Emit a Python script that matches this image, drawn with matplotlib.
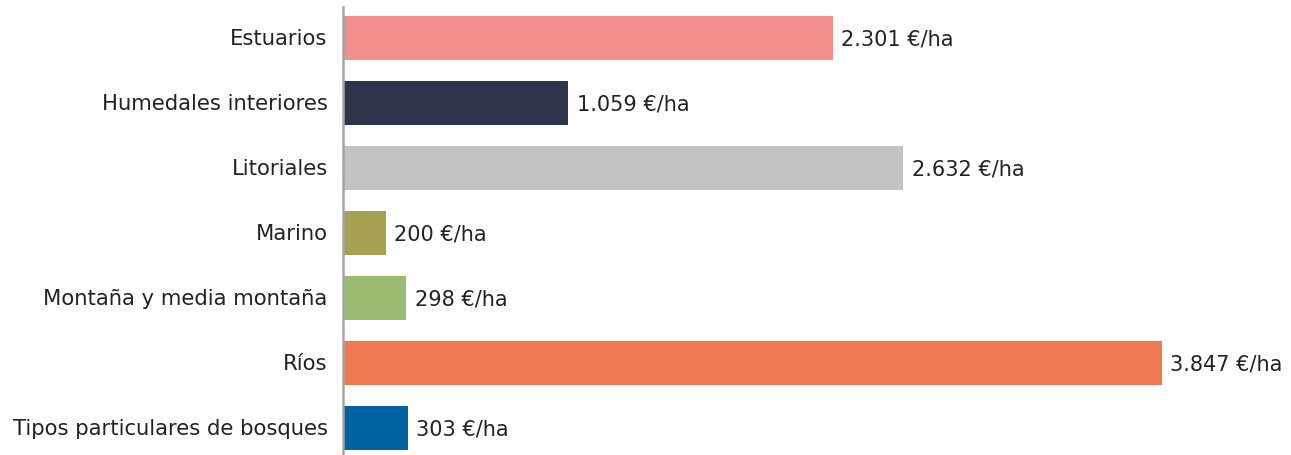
import numpy as np
import matplotlib.pyplot as plt

categories = ["Estuarios", "Humedales interiores", "Litoriales", "Marino",
              "Montaña y media montaña", "Ríos", "Tipos particulares de bosques"]
values = [2301, 1059, 2632, 200, 298, 3847, 303]
value_labels = ["2.301 €/ha", "1.059 €/ha", "2.632 €/ha", "200 €/ha",
                "298 €/ha", "3.847 €/ha", "303 €/ha"]
colors = ["#F28F8C", "#2E344C", "#C4C2C3", "#A5A052",
          "#9BBB71", "#EF7A52", "#0062A0"]

plt.rcParams["font.family"] = ["DejaVu Sans"]

fig = plt.figure(figsize=(12.91, 4.56), dpi=100)
ax = fig.add_axes([343 / 1291, 0.0, 1 - 343 / 1291, 1 - 8 / 456])

y = np.arange(len(categories))
ax.barh(y, values, height=0.68, color=colors)

for yi, v, lab in zip(y, values, value_labels):
    ax.annotate(lab, (v, yi), xytext=(6, 0), textcoords="offset points",
                va="center", ha="left", fontsize=15, color="#222222")

ax.set_yticks(y)
ax.set_yticklabels(categories, fontsize=15.2, color="#222222", va="center")
ax.tick_params(axis="y", length=0, pad=11)
ax.set_xticks([])
ax.set_xlim(0, 4453)
ax.set_ylim(6.415, -0.477)

for s in ["top", "right", "bottom"]:
    ax.spines[s].set_visible(False)
ax.spines["left"].set_color("#A6A6A6")
ax.spines["left"].set_linewidth(1.8)

fig.savefig("out.png", dpi=100)
